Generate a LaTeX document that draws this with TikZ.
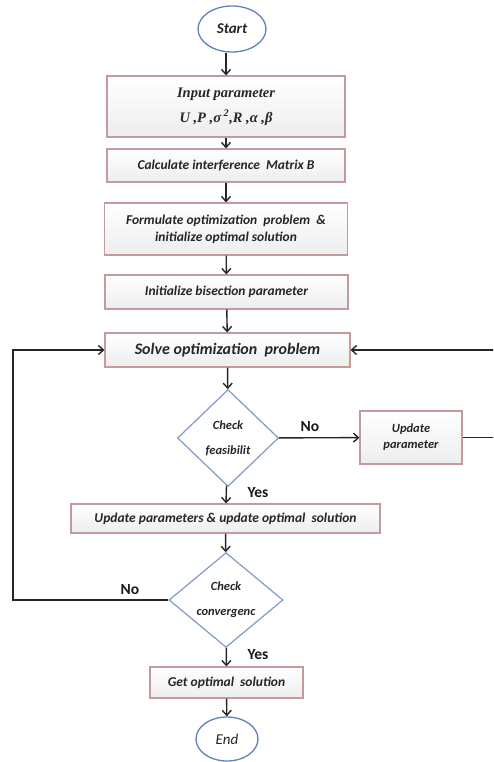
\documentclass[tikz,border=0pt]{standalone}
\usepackage{fontspec}
\setmainfont{Carlito}
\newfontfamily\serifbi{Liberation Serif}
\usepackage{tikz}
\usetikzlibrary{arrows.meta,shapes.geometric,positioning,calc}
\definecolor{boxline}{HTML}{C49A9A}
\definecolor{ovalline}{HTML}{5D84B8}
\definecolor{diamline}{HTML}{7E9CC2}
\begin{document}
\begin{tikzpicture}[x=1pt,y=-1pt,
    box/.style={
      rectangle,
      draw=boxline,
      line width=1.1pt,
      top color=white,
      bottom color=black!7,
      font=\fontsize{13.5}{15}\selectfont\bfseries\itshape,
      text=black!85,
      align=center,
      inner sep=2pt},
    oval/.style={
      ellipse,
      draw=ovalline,
      line width=1.3pt,
      fill=white,
      inner sep=0pt,
      font=\fontsize{15}{17}\selectfont\itshape,
      text=black!85},
    check/.style={
      diamond,
      draw=diamline,
      line width=1.2pt,
      fill=white,
      inner sep=0pt,
      align=center,
      font=\fontsize{12.5}{14}\selectfont\bfseries\itshape,
      text=black!85},
    tag/.style={
      font=\fontsize{15.5}{17}\selectfont\bfseries,
      text=black!90},
    >={Straight Barb[length=5pt,width=9pt]},
    flow/.style={->,line width=1.4pt,black!85}
  ]
  \clip (0,0) rectangle (493,762);
  \coordinate (lft) at (13,0);
  \coordinate (rgt) at (510,0);
  \node[oval,minimum width=68,minimum height=46,font=\fontsize{15}{17}\selectfont\bfseries\itshape] (start) at (232,29) {Start};
  \node[box,minimum width=238,minimum height=61] (inp) at (226,106.5)
    {\serifbi\fontsize{14.5}{16}\selectfont\bfseries\itshape Input parameter\\[9pt]
     \serifbi\fontsize{14.5}{16}\selectfont\bfseries\itshape U ,P ,σ\textsuperscript{ 2},R ,α ,β};
  \node[box,minimum width=238,minimum height=33] (calc) at (226,165.5) {Calculate interference\ \ Matrix B};
  \node[box,minimum width=243,minimum height=52] (form) at (226,229) {Formulate optimization\ \ problem\ \ \&\\[2pt] initialize optimal solution};
  \node[box,minimum width=243,minimum height=34] (bis) at (226.5,292) {Initialize bisection parameter};
  \node[box,minimum width=245,minimum height=34,font=\fontsize{16}{18}\selectfont\bfseries\itshape] (solve) at (227.5,350) {Solve optimization\ \ problem};
  \node[check,minimum width=101,minimum height=97] (feas) at (228,438) {Check\\[11pt]feasibilit};
  \node[box,minimum width=102,minimum height=53,font=\fontsize{12.5}{14}\selectfont\bfseries\itshape] (upd) at (411,437.5) {Update\\[2pt]parameter};
  \node[box,minimum width=309,minimum height=29] (updsol) at (225.5,518.5) {Update parameters \& update optimal\ \ solution};
  \node[check,minimum width=114,minimum height=92] (conv) at (226,600) {Check\\[11pt]convergenc};
  \node[box,minimum width=153,minimum height=31] (get) at (226.5,682.5) {Get optimal\ \ solution};
  \node[oval,minimum width=62,minimum height=44] (end) at (227,739) {End};
  \node[tag] (no1) at (310,427) {No};
  \node[tag] (yes1) at (258,493) {Yes};
  \node[tag] (no2) at (130,590) {No};
  \node[tag] (yes2) at (258,655) {Yes};
  \draw[flow] (start.south -| inp.north) -- (inp.north);
  \draw[flow] (inp) -- (calc);
  \draw[flow] (calc) -- (form);
  \draw[flow] (form) -- (bis);
  \draw[flow] (bis) -- (solve);
  \draw[flow] (solve) -- (feas);
  \draw[flow] (feas) -- (upd);
  \draw[flow] (feas) -- (updsol);
  \draw[flow] (updsol) -- (conv);
  \draw[flow] (conv) -- (get);
  \draw[flow] (get) -- (end);
  \draw[flow] (conv.west) -- (conv.west -| lft) |- (solve.west);
  \draw[flow] (upd.east) -- (upd.east -| rgt) |- (solve.east);
\end{tikzpicture}
\end{document}
